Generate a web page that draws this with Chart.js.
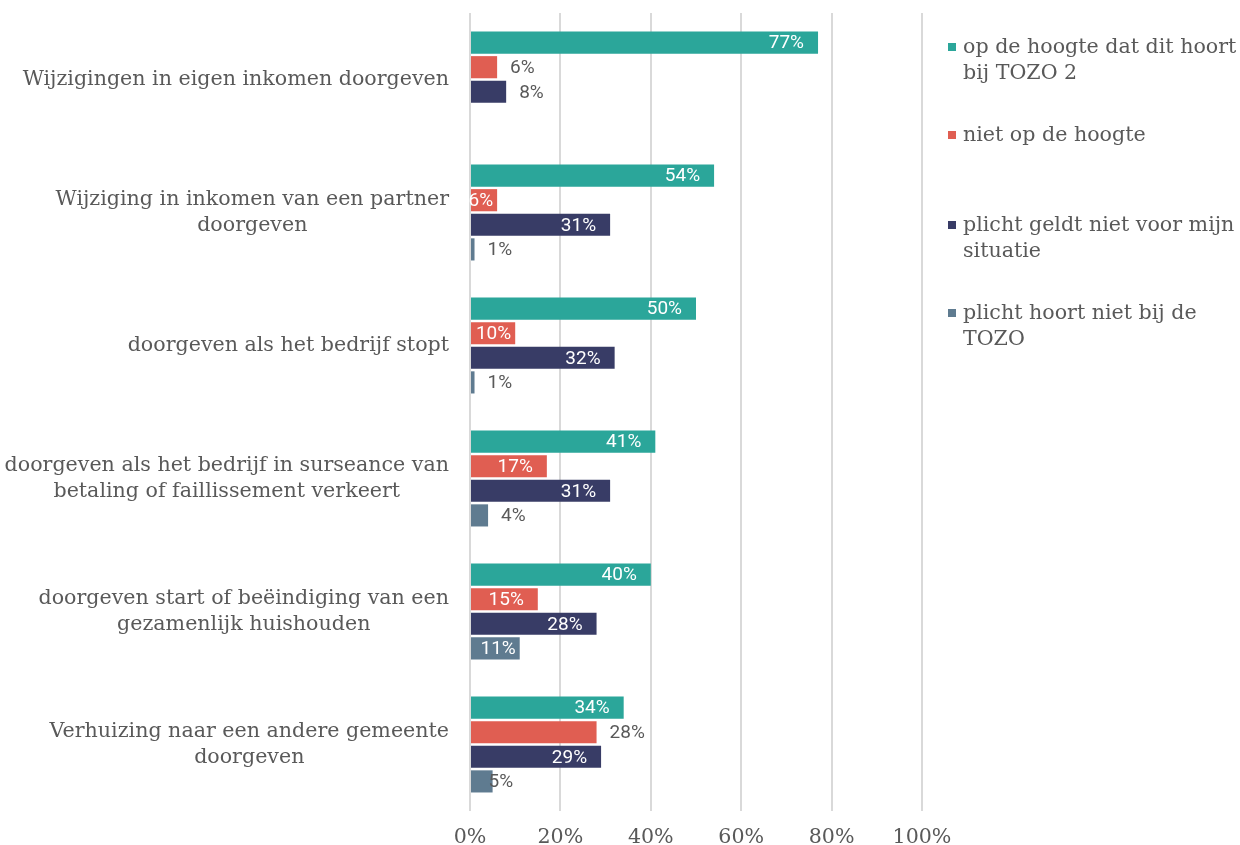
<!DOCTYPE html>
<html lang="nl">
<head>
    <meta charset="UTF-8">
    <title>Plichten TOZO</title>
    <script src="https://cdn.jsdelivr.net/npm/chart.js"></script>
    <style>
        body { margin: 0; background: #fff; overflow: hidden; }
        #wrap { position: relative; width: 1240px; height: 845px; }
        #legenda { position: absolute; left: 946px; top: 33px; width: 300px;
            font-family: "DejaVu Serif", serif; font-size: 20.6px; color: #595959; line-height: 26px; }
        .item { position: absolute; padding-left: 17px; white-space: nowrap; }
        .item span.blok { position: absolute; left: 2px; top: 10px; width: 8px; height: 8px; }
    </style>
</head>
<body>
<div id="wrap">
    <canvas id="myChart" width="1240" height="845"></canvas>
    <div id="legenda"></div>
</div>

<script>
    // categorieën (van boven naar beneden)
    const categorieen = [
        ['Wijzigingen in eigen inkomen doorgeven'],
        ['Wijziging in inkomen van een partner', 'doorgeven'],
        ['doorgeven als het bedrijf stopt'],
        ['doorgeven als het bedrijf in surseance van', 'betaling of faillissement verkeert'],
        ['doorgeven start of beëindiging van een', 'gezamenlijk huishouden'],
        ['Verhuizing naar een andere gemeente', 'doorgeven']
    ];

    const seriesNamen = [
        ['op de hoogte dat dit hoort', 'bij TOZO 2'],
        ['niet op de hoogte'],
        ['plicht geldt niet voor mijn', 'situatie'],
        ['plicht hoort niet bij de', 'TOZO']
    ];

    // percentages
    const opDeHoogte = [77, 54, 50, 41, 40, 34];
    const nietOpDeHoogte = [6, 6, 10, 17, 15, 28];
    const geldtNiet = [8, 31, 32, 31, 28, 29];
    const hoortNiet = [null, 1, 1, 4, 11, 5];

    const xTicks = [0, 20, 40, 60, 80, 100];

    const kleuren = ['#2ba69a', '#e05e52', '#383c66', '#5f7b90'];
    // label binnen ('in'), buiten ('uit') of op de rand ('rand') van de balk
    const labelPlek = [
        ['in', 'in', 'in', 'in', 'in', 'in'],
        ['uit', 'in', 'in', 'in', 'in', 'uit'],
        ['uit', 'in', 'in', 'in', 'in', 'in'],
        ['uit', 'uit', 'uit', 'uit', 'in', 'rand']
    ];

    const alleSeries = [opDeHoogte, nietOpDeHoogte, geldtNiet, hoortNiet];
    const grijs = '#595959';
    const serif = '"DejaVu Serif", serif';

    // legenda
    const leg = document.getElementById('legenda');
    const legTop = [0, 88, 178, 266];
    seriesNamen.forEach(function (regels, i) {
        const d = document.createElement('div');
        d.className = 'item';
        d.style.top = legTop[i] + 'px';
        d.innerHTML = '<span class="blok" style="background:' + kleuren[i] + '"></span>' + regels.join('<br>');
        leg.appendChild(d);
    });

    const labelPlugin = {
        id: 'labels',
        afterDatasetsDraw(chart) {
            const ctx = chart.ctx;
            ctx.save();
            ctx.font = '19px Roboto';
            ctx.textBaseline = 'middle';
            chart.data.datasets.forEach(function (ds, di) {
                const meta = chart.getDatasetMeta(di);
                meta.data.forEach(function (bar, i) {
                    const v = ds.data[i];
                    if (v === null) return;
                    const t = v + '%';
                    const plek = labelPlek[di][i];
                    if (plek === 'in') {
                        ctx.fillStyle = '#fff';
                        ctx.textAlign = 'right';
                        ctx.fillText(t, bar.x - (v < 15 ? 4 : 14), bar.y + 1);
                    } else {
                        ctx.fillStyle = grijs;
                        ctx.textAlign = 'left';
                        ctx.fillText(t, bar.x + (plek === 'rand' ? -4 : 13), bar.y + 1);
                    }
                });
            });
            // categorie-labels: blok rechts uitgelijnd, regels gecentreerd
            const y = chart.scales.y;
            ctx.font = '20.6px ' + serif;
            ctx.fillStyle = grijs;
            ctx.textAlign = 'center';
            categorieen.forEach(function (regels, i) {
                const mid = y.getPixelForValue(i);
                let w = 0;
                regels.forEach(r => { w = Math.max(w, ctx.measureText(r).width); });
                const cx = 449 - w / 2;
                const lh = 26;
                regels.forEach(function (r, j) {
                    ctx.fillText(r, cx, mid + (j - (regels.length - 1) / 2) * lh);
                });
            });
            ctx.restore();
        }
    };

    new Chart(document.getElementById('myChart'), {
        type: 'bar',
        data: {
            labels: categorieen.map(c => c.join(' ')),
            datasets: alleSeries.map(function (d, i) {
                return {
                    label: seriesNamen[i].join(' '),
                    data: d,
                    backgroundColor: kleuren[i],
                    categoryPercentage: 0.74,
                    barPercentage: 0.9
                };
            })
        },
        options: {
            indexAxis: 'y',
            responsive: false,
            animation: false,
            layout: { padding: { left: 470, right: 318, top: 13, bottom: 0 } },
            plugins: { legend: { display: false }, tooltip: { enabled: false } },
            scales: {
                x: {
                    min: 0, max: 100,
                    afterBuildTicks: function (ax) { ax.ticks = xTicks.map(v => ({ value: v })); },
                    afterFit: function (ax) { ax.height = 34; },
                    grid: { color: '#d9d9d9', lineWidth: 2, drawTicks: false },
                    border: { display: false },
                    ticks: {
                        padding: 14,
                        color: grijs,
                        font: { family: serif, size: 20.6 },
                        callback: v => v + '%'
                    }
                },
                y: {
                    display: false
                }
            }
        },
        plugins: [labelPlugin]
    });
</script>
</body>
</html>
